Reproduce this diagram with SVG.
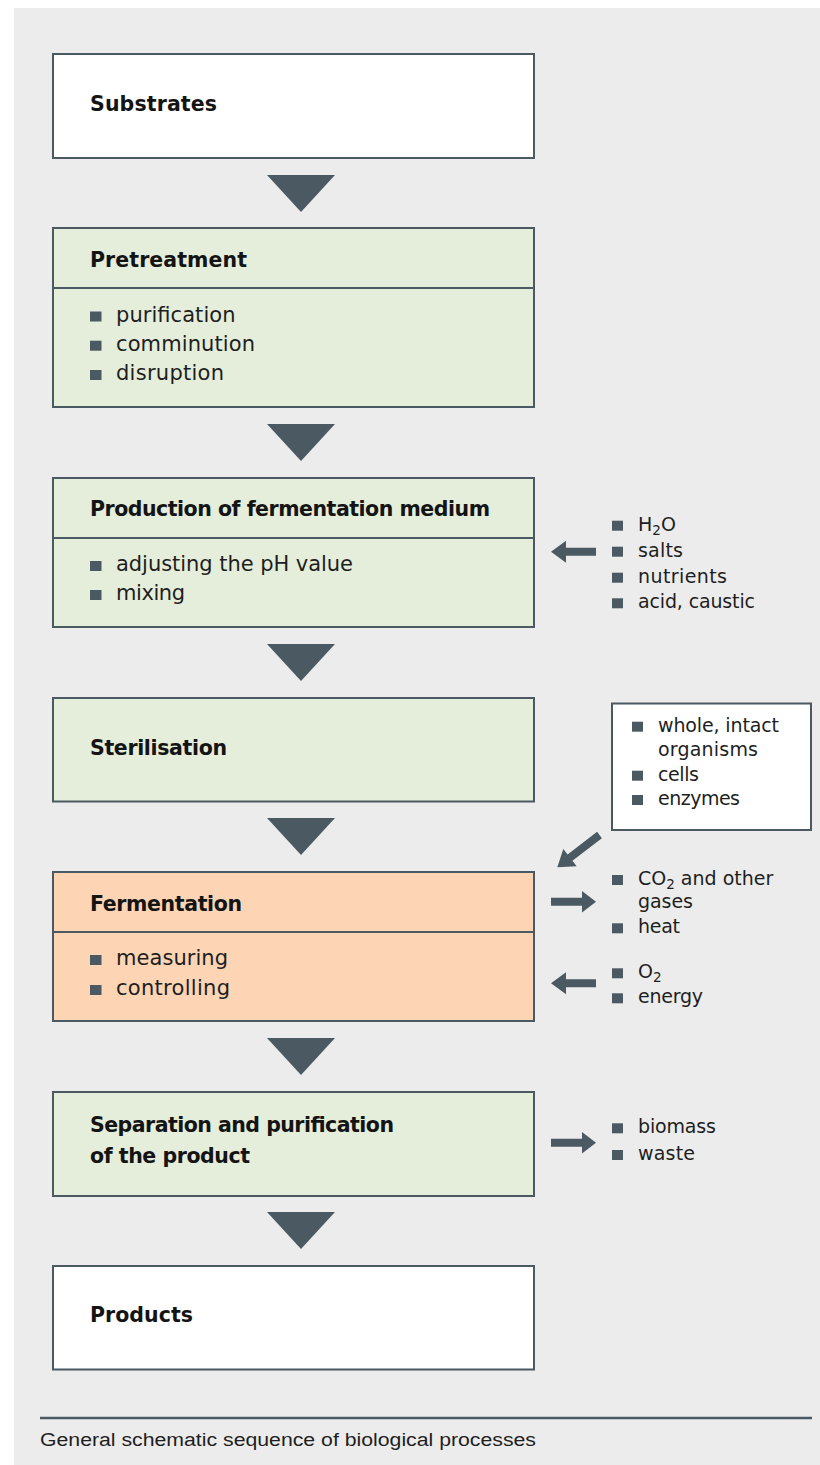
<svg xmlns="http://www.w3.org/2000/svg" width="820" height="1465" viewBox="0 0 820 1465">
<style>
.box{stroke:#4a5962;stroke-width:2}
.white{fill:#ffffff}
.green{fill:#e5eedb}
.orange{fill:#fdd5b4}
.div{stroke:#4a5962;stroke-width:2}
.title{font-family:"DejaVu Sans","Liberation Sans",sans-serif;font-weight:bold;font-size:20.5px;fill:#141414}
.item{font-family:"DejaVu Sans","Liberation Sans",sans-serif;font-size:21px;fill:#1e1e1e}
.side{font-family:"DejaVu Sans","Liberation Sans",sans-serif;font-size:19px;fill:#1e1e1e}
.sub{font-size:13.5px}
.bul{fill:#4a5962}
.conn{fill:#4a5962}
.cap{font-family:"Liberation Sans",sans-serif;font-size:18px;fill:#1e1e1e}
</style>
<rect x="14" y="8" width="806" height="1457" fill="#ececec"/>

<g id="connectors" class="conn">
  <polygon points="267,175 335,175 301,212"/>
  <polygon points="267,424 335,424 301,461"/>
  <polygon points="267,644 335,644 301,681"/>
  <polygon points="267,818 335,818 301,855"/>
  <polygon points="267,1038 335,1038 301,1075"/>
  <polygon points="267,1212 335,1212 301,1249"/>
  <polygon points="551,551.7 566,540.7 566,547.7 596,547.7 596,555.7 566,555.7 566,562.7"/>
  <polygon points="596,901.7 582,891 582,897.7 551,897.7 551,905.7 582,905.7 582,912.5"/>
  <polygon points="551,983.3 566,972.3 566,979.3 596,979.3 596,987.3 566,987.3 566,994.3"/>
  <polygon points="596,1142.7 582,1132 582,1138.7 551,1138.7 551,1146.7 582,1146.7 582,1153.5"/>
  <polygon points="557.3,867.3 563.3,848.9 567.6,854.4 597.1,831.8 601.9,838.2 572.4,860.8 576.7,866.3"/>
</g>

<g id="substrates">
  <rect class="box white" x="53" y="54" width="481" height="104"/>
  <text class="title" x="90" y="111" textLength="127" lengthAdjust="spacing">Substrates</text>
</g>

<g id="pretreatment">
  <rect class="box green" x="53" y="228" width="481" height="179"/>
  <line class="div" x1="53" y1="288" x2="534" y2="288"/>
  <text class="title" x="90" y="266.5" textLength="157" lengthAdjust="spacing">Pretreatment</text>
  <rect class="bul" x="90" y="311.5" width="11.5" height="10"/>
  <text class="item" x="116" y="321.5" textLength="119.5" lengthAdjust="spacing">purification</text>
  <rect class="bul" x="90" y="340.7" width="11.5" height="10"/>
  <text class="item" x="116" y="350.7" textLength="139" lengthAdjust="spacing">comminution</text>
  <rect class="bul" x="90" y="370" width="11.5" height="10"/>
  <text class="item" x="116" y="380" textLength="108" lengthAdjust="spacing">disruption</text>
</g>

<g id="medium">
  <rect class="box green" x="53" y="478" width="481" height="149"/>
  <line class="div" x1="53" y1="538" x2="534" y2="538"/>
  <text class="title" x="90" y="516" textLength="400" lengthAdjust="spacing">Production of fermentation medium</text>
  <rect class="bul" x="90" y="561" width="11.5" height="10"/>
  <text class="item" x="116" y="571" textLength="237" lengthAdjust="spacing">adjusting the pH value</text>
  <rect class="bul" x="90" y="590" width="11.5" height="10"/>
  <text class="item" x="116" y="600" textLength="69" lengthAdjust="spacing">mixing</text>
</g>

<g id="medium-inputs">
  <rect class="bul" x="612" y="520.7" width="11" height="10"/>
  <text class="side" x="638" y="530.7">H<tspan class="sub" dy="4">2</tspan><tspan dy="-4">O</tspan></text>
  <rect class="bul" x="612" y="546.7" width="11" height="10"/>
  <text class="side" x="638" y="556.7" textLength="45" lengthAdjust="spacing">salts</text>
  <rect class="bul" x="612" y="572.7" width="11" height="10"/>
  <text class="side" x="638" y="582.7" textLength="89" lengthAdjust="spacing">nutrients</text>
  <rect class="bul" x="612" y="598.3" width="11" height="10"/>
  <text class="side" x="638" y="608.3" textLength="117" lengthAdjust="spacing">acid, caustic</text>
</g>

<g id="sterilisation">
  <rect class="box green" x="53" y="698" width="481" height="103.5"/>
  <text class="title" x="90" y="755" textLength="137" lengthAdjust="spacing">Sterilisation</text>
</g>

<g id="organisms">
  <rect class="box white" x="612" y="703.5" width="199" height="126.5"/>
  <rect class="bul" x="632" y="721.7" width="11" height="10"/>
  <text class="side" x="658" y="731.7" textLength="121" lengthAdjust="spacing">whole, intact</text>
  <text class="side" x="658" y="755.5" textLength="100" lengthAdjust="spacing">organisms</text>
  <rect class="bul" x="632" y="770.7" width="11" height="10"/>
  <text class="side" x="658" y="780.7" textLength="41" lengthAdjust="spacing">cells</text>
  <rect class="bul" x="632" y="795" width="11" height="10"/>
  <text class="side" x="658" y="805" textLength="82" lengthAdjust="spacing">enzymes</text>
</g>

<g id="fermentation">
  <rect class="box orange" x="53" y="872" width="481" height="149"/>
  <line class="div" x1="53" y1="932" x2="534" y2="932"/>
  <text class="title" x="90" y="910.7" textLength="152" lengthAdjust="spacing">Fermentation</text>
  <rect class="bul" x="90" y="955" width="11.5" height="10"/>
  <text class="item" x="116" y="965" textLength="112" lengthAdjust="spacing">measuring</text>
  <rect class="bul" x="90" y="985" width="11.5" height="10"/>
  <text class="item" x="116" y="995" textLength="114" lengthAdjust="spacing">controlling</text>
</g>

<g id="fermentation-outputs">
  <rect class="bul" x="612" y="875" width="11" height="10"/>
  <text class="side" x="638" y="885">CO<tspan class="sub" dy="4">2</tspan><tspan dy="-4"> and other</tspan></text>
  <text class="side" x="638" y="908" textLength="55" lengthAdjust="spacing">gases</text>
  <rect class="bul" x="612" y="923.3" width="11" height="10"/>
  <text class="side" x="638" y="933.3" textLength="42" lengthAdjust="spacing">heat</text>
</g>

<g id="fermentation-inputs">
  <rect class="bul" x="612" y="968.3" width="11" height="10"/>
  <text class="side" x="638" y="978.3">O<tspan class="sub" dy="4">2</tspan></text>
  <rect class="bul" x="612" y="993.3" width="11" height="10"/>
  <text class="side" x="638" y="1003.3" textLength="65" lengthAdjust="spacing">energy</text>
</g>

<g id="separation">
  <rect class="box green" x="53" y="1092" width="481" height="104"/>
  <text class="title" x="90" y="1132" textLength="304" lengthAdjust="spacing">Separation and purification</text>
  <text class="title" x="90" y="1163" textLength="160" lengthAdjust="spacing">of the product</text>
</g>

<g id="separation-outputs">
  <rect class="bul" x="612" y="1123.3" width="11" height="10"/>
  <text class="side" x="638" y="1133.3" textLength="78" lengthAdjust="spacing">biomass</text>
  <rect class="bul" x="612" y="1150" width="11" height="10"/>
  <text class="side" x="638" y="1160" textLength="57" lengthAdjust="spacing">waste</text>
</g>

<g id="products">
  <rect class="box white" x="53" y="1266" width="481" height="103.5"/>
  <text class="title" x="90" y="1322.3" textLength="103" lengthAdjust="spacing">Products</text>
</g>

<g id="caption">
  <line x1="40" y1="1418" x2="812" y2="1418" stroke="#4a5962" stroke-width="2.5"/>
  <text class="cap" x="40" y="1445.7" textLength="496" lengthAdjust="spacingAndGlyphs">General schematic sequence of biological processes</text>
</g>
</svg>
